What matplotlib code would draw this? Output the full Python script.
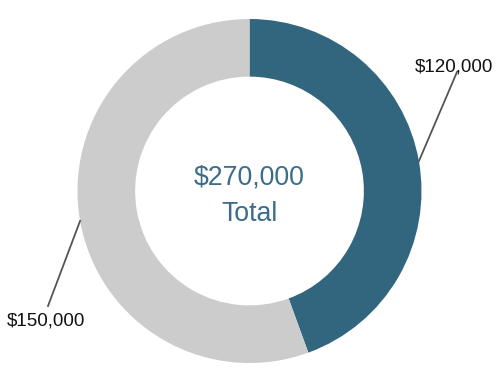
import matplotlib.pyplot as plt
import numpy as np

plt.rcParams['font.family'] = ['Liberation Sans', 'DejaVu Sans']

# data
labels = ['$120,000', '$150,000']
values = [120000, 150000]
colors = ['#32657e', '#cccccc']
total_text = '$270,000'
total_label = 'Total'

fig = plt.figure(figsize=(4.98, 3.84), dpi=100)
ax = fig.add_axes([0, 0, 1, 1])

cx, cy, R = 249.5, 191, 172
# y axis is flipped below, so start at -90 and go counterclockwise in data
# coords to look clockwise from the top on the picture
wedges, _ = ax.pie(values, colors=colors, startangle=-90, counterclock=True,
                   center=(cx, cy), radius=R, frame=True,
                   wedgeprops=dict(width=R * 0.335, linewidth=0))
ax.set_xlim(0, 498)
ax.set_ylim(384, 0)
ax.set_aspect('equal')
ax.axis('off')

# label leader lines (end points of the line and text anchor)
line_ends = [(457, 72), (48, 306)]
text_pos = [(454, 67), (46, 321)]
for w, lab, le, tp in zip(wedges, labels, line_ends, text_pos):
    ang = np.deg2rad((w.theta1 + w.theta2) / 2)
    x0 = cx + R * np.cos(ang)
    y0 = cy + R * np.sin(ang)
    ax.plot([x0, le[0]], [y0, le[1]], color='#555555', lw=1.3)
    ax.text(tp[0], tp[1], lab, fontsize=13.5, ha='center', va='center', color='#111111')

ax.text(cx, 177, total_text, fontsize=19.2, ha='center', va='center', color='#3b6d88')
ax.text(cx, 214, total_label, fontsize=19.2, ha='center', va='center', color='#3b6d88')

fig.savefig('out.png', dpi=100)
